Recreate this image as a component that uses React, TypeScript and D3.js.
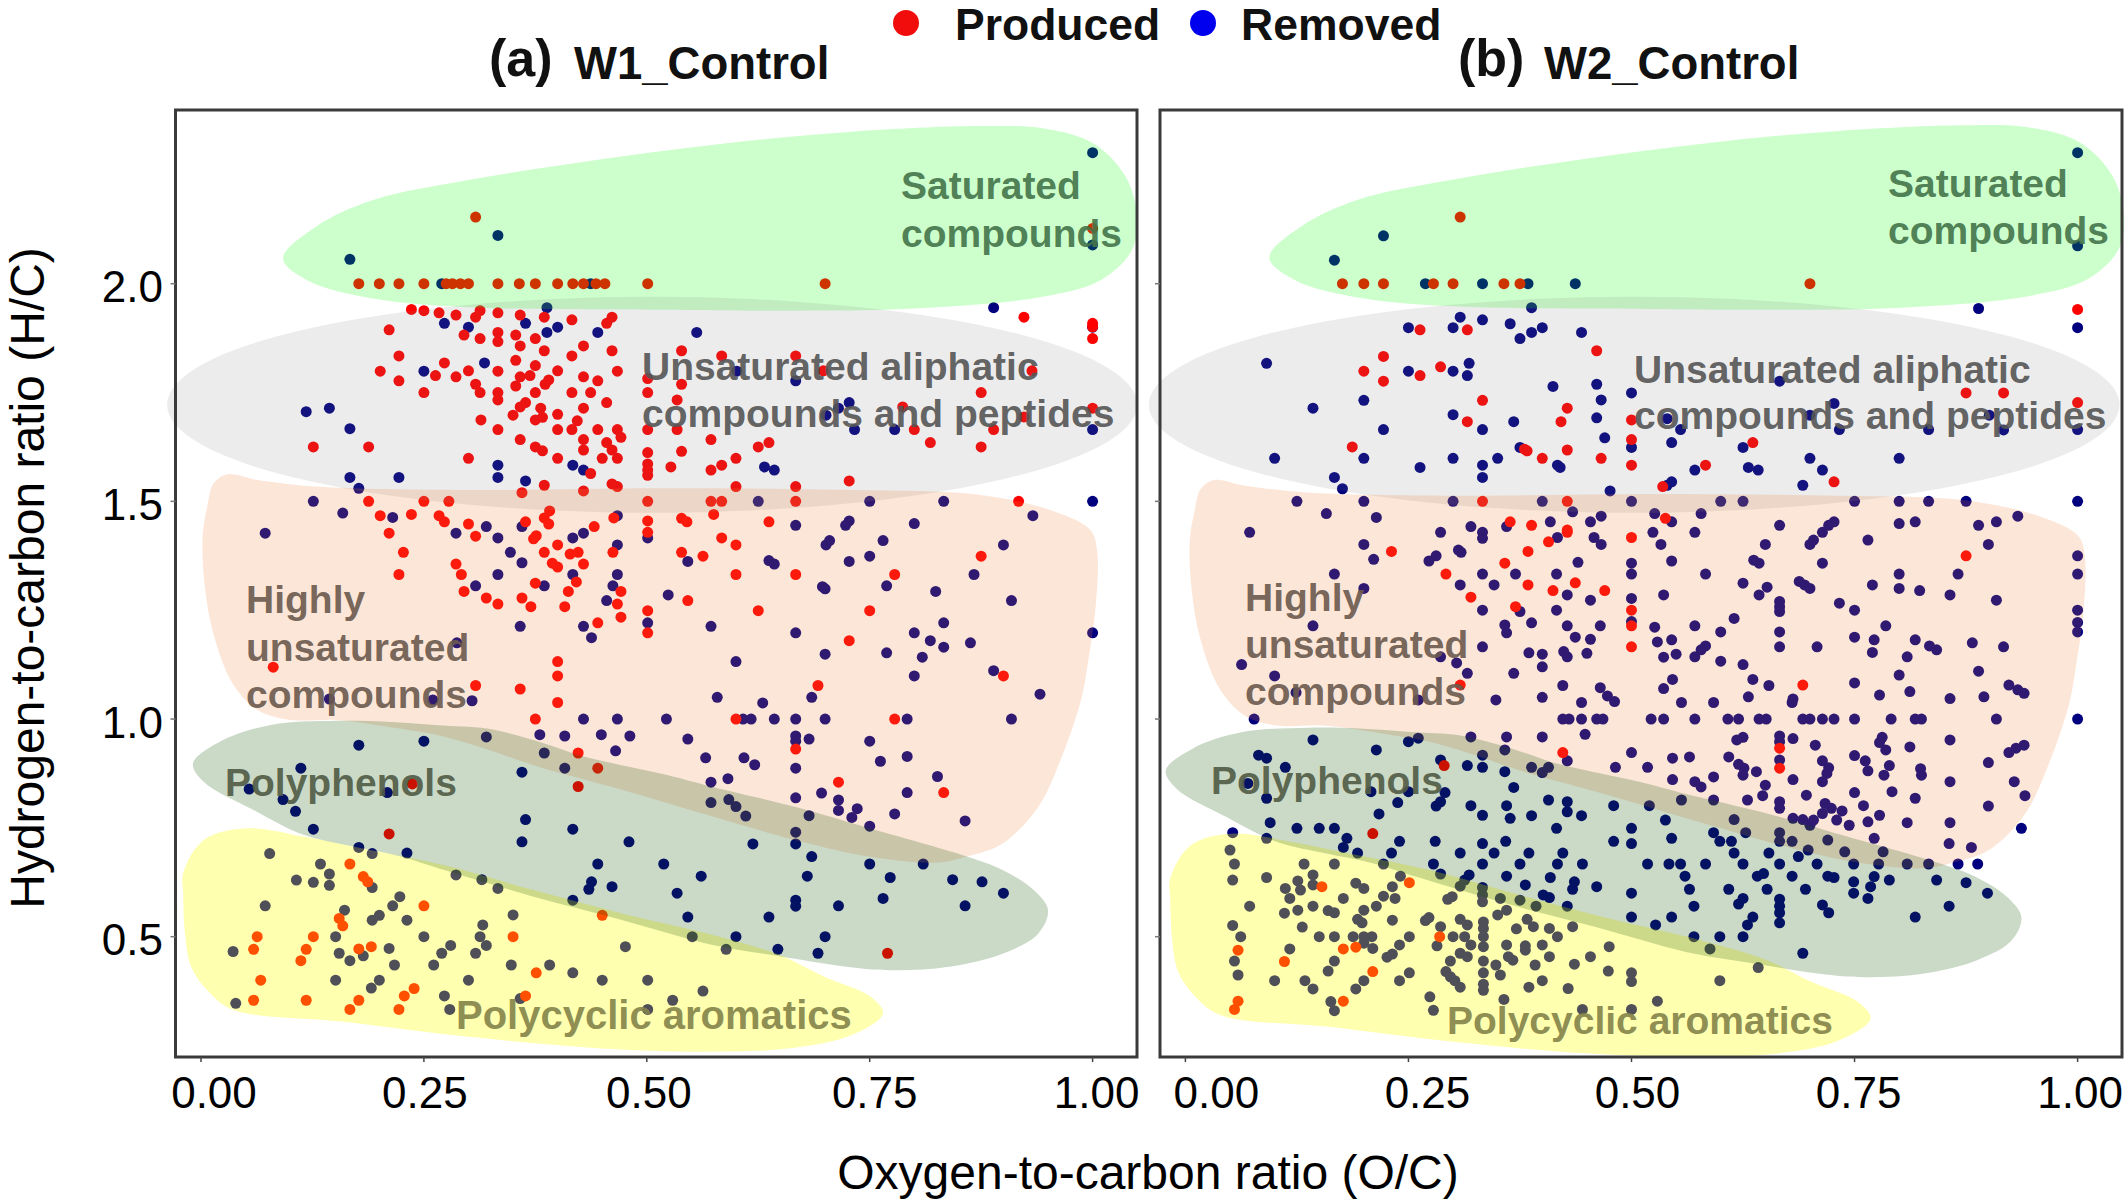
import * as d3 from "d3";

type Pt = [number, number];

const xTickValues = [0, 0.25, 0.5, 0.75, 1];
const yTickValues = [0.5, 1, 1.5, 2];
const xTickLabels = ["0.00", "0.25", "0.50", "0.75", "1.00"];
const yTickLabels = ["0.5", "1.0", "1.5", "2.0"];

// (O/C, H/C)
const w1Produced: Pt[] = [
  [.177,2],[.2,2],[.222,2],[.25,2],[.275,2],[.282,2],[.291,2],[.3,2],[.333,2],[.357,2],[.375,2],[.4,2],[.417,2],[.429,2],[.443,2],[.453,2],[.501,2],[.7,2],
  [.308,2.153],[1,2.127],[.236,1.941],[.25,1.938],[.267,1.933],[.286,1.928],[.313,1.938],[.308,1.923],[.333,1.933],[.358,1.928],[.385,1.923],[.416,1.917],[.461,1.923],[.455,1.909],
  [.211,1.894],[.333,1.888],[.353,1.882],[.295,1.882],[.313,1.874],[.333,1.867],[.375,1.874],[.358,1.857],[.385,1.846],[.429,1.857],[.461,1.846],[.416,1.834],[.222,1.834],[.353,1.824],
  [.273,1.818],[.375,1.812],[.333,1.799],[.3,1.8],[.4,1.8],[.467,1.799],[.201,1.799],[.263,1.789],[.286,1.786],[.222,1.777],[.369,1.789],[.358,1.786],[.308,1.769],[.39,1.779],[.386,1.769],
  [.429,1.786],[.445,1.777],[.353,1.765],[.313,1.75],[.25,1.75],[.375,1.75],[.416,1.75],[.437,1.75],[.333,1.75],[.333,1.733],[.364,1.727],[.358,1.717],[.35,1.698],[.381,1.714],[.455,1.727],
  [.429,1.714],[.4,1.7],[.383,1.693],[.375,1.687],[.314,1.687],[.422,1.685],[.416,1.665],[.4,1.665],[.445,1.665],[.467,1.665],[.333,1.665],[.471,1.647],[.429,1.642],[.455,1.635],[.358,1.642],
  [.375,1.625],[.383,1.616],[.429,1.618],[.461,1.618],[.467,1.599],[.45,1.599],[.3,1.599],[.4,1.599],[.437,1.564],[.126,1.625],[.188,1.625],
  [.501,1.782],[.501,1.75],[.501,1.665],[.501,1.612],[.501,1.586],[.501,1.572],[.501,1.56],[.501,1.5],[.501,1.455],
  [.539,1.846],[.539,1.769],[.534,1.733],[.534,1.665],[.584,1.834],[.667,1.834],[.698,1.8],[.932,1.8],[.875,1.75],[1,1.714],[.787,1.717],[.923,1.694],[.8,1.665],[.889,1.665],[.572,1.642],
  [.625,1.625],[.637,1.635],[.818,1.635],[.875,1.625],[.539,1.615],[.6,1.599],[.584,1.583],[.572,1.572],[.527,1.579],[.727,1.547],[.6,1.534],[.667,1.534],[.467,1.534],[.461,1.54],[.385,1.537],
  [.429,1.524],[.36,1.52],[.923,1.923],[1,1.909],[1,1.901],[1,1.874],
  [.188,1.5],[.25,1.5],[.278,1.5],[.572,1.5],[.584,1.5],[.667,1.5],[.917,1.5],
  [.201,1.467],[.236,1.47],[.267,1.467],[.273,1.453],[.3,1.448],[.391,1.478],[.385,1.462],[.39,1.448],[.364,1.453],[.463,1.462],[.539,1.461],[.545,1.453],[.575,1.47],[.637,1.453],[.441,1.442],
  [.211,1.427],[.227,1.383],[.308,1.42],[.286,1.356],[.292,1.332],[.222,1.332],[.295,1.293],[.32,1.278],[.333,1.264],[.36,1.278],[.37,1.258],[.408,1.258],[.412,1.293],[.421,1.315],[.375,1.312],
  [.373,1.414],[.376,1.421],[.4,1.4],[.385,1.383],[.414,1.379],[.423,1.383],[.429,1.356],[.394,1.358],[.4,1.349],[.462,1.383],[.501,1.429],[.539,1.383],[.563,1.374],[.584,1.416],[.6,1.4],
  [.6,1.332],[.667,1.332],[.471,1.293],[.467,1.264],[.546,1.272],[.501,1.249],[.471,1.234],[.445,1.221],[.501,1.198],[.625,1.249],[.75,1.249],[.727,1.18],[.875,1.374],[.778,1.332],
  [.081,1.119],[.4,1.132],[.4,1.099],[.308,1.077],[.358,1.069],[.4,1.038],[.375,1],[.6,1],[.778,1],[.692,1.077],[.9,1.099],[.423,.922],[.445,.887],[.423,.845],[.667,.931],[.715,.855],[.833,.831],[.237,.851],[.211,.736],
  [.167,.667],[.182,.638],[.187,.626],[.25,.571],[.155,.542],[.159,.525],[.126,.5],[.063,.5],[.059,.471],[.118,.471],[.177,.472],[.191,.477],[.112,.445],[.067,.4],[.059,.354],[.118,.354],[.177,.354],
  [.167,.333],[.222,.333],[.228,.364],[.239,.381],[.376,.417],[.35,.5],[.45,.549],[.364,.364],[.77,.462],
];

const w1Removed: Pt[] = [
  [1,2.301],[1,2.089],[.333,2.111],[.167,2.056],[.27,2],[.437,2],[.388,1.945],[.889,1.945],[.273,1.909],[.3,1.9],[.364,1.909],[.4,1.9],[.388,1.888],[.445,1.888],[.556,1.888],[1,1.9],
  [.318,1.818],[.25,1.799],[.601,1.799],[.667,1.777],[.118,1.706],[.144,1.714],[.167,1.667],[.727,1.727],[.715,1.714],[.701,1.698],[.733,1.665],[.778,1.665],[1,1.665],[.333,1.583],[.417,1.583],
  [.429,1.572],[.632,1.579],[.643,1.572],[.167,1.555],[.222,1.555],[.333,1.555],[.364,1.547],[.177,1.53],[.126,1.5],[.625,1.5],[.75,1.5],[.833,1.5],[1,1.5],
  [.467,1.467],[.159,1.473],[.215,1.463],[.933,1.467],[.727,1.455],[.723,1.445],[.667,1.445],[.32,1.442],[.8,1.449],[.36,1.442],
  [.072,1.427],[.286,1.427],[.417,1.416],[.333,1.416],[.429,1.427],[.467,1.4],[.501,1.416],[.701,1.4],[.705,1.41],[.727,1.362],[.765,1.41],[.75,1.374],[.9,1.4],[.347,1.383],[.36,1.359],
  [.333,1.332],[.417,1.332],[.467,1.332],[.308,1.306],[.385,1.306],[.462,1.306],[.546,1.362],[.637,1.364],[.643,1.356],[.697,1.304],[.7,1.299],[.769,1.306],[.824,1.293],[.867,1.332],[.909,1.272],
  [.455,1.272],[.524,1.285],[.358,1.213],[.429,1.213],[.438,1.187],[.501,1.221],[.572,1.213],[.667,1.198],[.8,1.198],[.833,1.221],[.818,1.18],[.833,1.165],[.863,1.175],[1,1.198],[.287,1.175],
  [.7,1.149],[.769,1.152],[.809,1.142],[.6,1.132],[.8,1.099],[.889,1.111],[.941,1.057],[.144,1.046],[.26,1.044],[.304,1.042],[.579,1.05],[.63,1.037],[.685,1.05],
  [.429,1],[.467,1],[.522,1],[.608,1],[.617,1],[.643,1],[.667,1],[.7,1],[.792,1],[.909,1],
  [.32,.959],[.38,.964],[.408,.961],[.449,.964],[.481,.961],[.546,.954],[.667,.961],[.667,.949],[.682,.954],[.75,.949],[.177,.94],[.25,.949],[.465,.927],[.385,.922],[.566,.911],[.609,.911],
  [.621,.895],[.667,.887],[.762,.903],[.792,.914],[.36,.878],[.408,.887],[.112,.887],[.054,.839],[.209,.831],[.572,.855],[.591,.863],[.826,.868],[.792,.831],[.092,.815],[.106,.788],[.572,.808],
  [.592,.815],[.6,.799],[.611,.777],[.667,.819],[.696,.83],[.715,.814],[.715,.79],[.736,.794],[.73,.774],[.75,.754],[.778,.782],[.682,.778],[.857,.766],[.364,.769],[.417,.747],[.126,.747],
  [.667,.74],[.36,.718],[.48,.718],[.619,.713],[.667,.713],[.177,.705],[.192,.691],[.231,.692],[.077,.691],
  [.685,.684],[.134,.667],[.445,.667],[.519,.667],[.75,.667],[.81,.667],[.144,.644],[.286,.642],[.561,.639],[.68,.639],[.773,.636],[.107,.63],[.315,.631],[.843,.631],[.126,.625],[.876,.626],
  [.438,.626],[.144,.618],[.192,.613],[.333,.611],[.435,.609],[.461,.615],[.534,.6],[.9,.6],[.223,.592],[.765,.588],[.417,.584],[.667,.584],[.667,.57],[.215,.571],[.072,.571],[.715,.571],[.857,.571],
  [.161,.561],[.2,.549],[.35,.55],[.546,.545],[.637,.545],[.192,.538],[.231,.538],[.316,.527],[.313,.5],[.25,.5],[.151,.5],[.551,.5],[.6,.5],[.7,.5],[.32,.48],[.211,.473],[.28,.48],[.476,.477],
  [.589,.471],[.647,.471],[.27,.462],[.308,.462],[.036,.466],[.155,.462],[.692,.462],[.182,.456],[.167,.445],[.217,.435],[.261,.435],[.348,.435],[.391,.435],[.417,.417],[.151,.4],[.2,.4],[.3,.4],
  [.45,.4],[.501,.4],[.191,.382],[.273,.364],[.563,.375],[.358,.358],[.529,.354],[.039,.347],[.279,.333],[.501,.333],
];

// (O/C, H/C)
const w2Produced: Pt[] = [
  [.308,2.153],[.176,2],[.2,2],[.222,2],[.278,2],[.3,2],[.357,2],[.375,2],[.7,2],[.263,1.894],[.316,1.894],[1,1.941],[.461,1.846],[.222,1.833],[.286,1.809],[.2,1.799],[.263,1.789],[.222,1.776],
  [.333,1.732],[.428,1.714],[.875,1.749],[.917,1.749],[1,1.727],[.316,1.683],[.421,1.683],[.5,1.687],[.5,1.642],[.636,1.635],[.187,1.625],[.383,1.616],[.38,1.62],[.428,1.618],[.4,1.599],[.466,1.599],
  [.5,1.583],[.583,1.583],[.535,1.534],[.727,1.545],[.333,1.5],[.428,1.5],[.364,1.453],[.388,1.445],[.538,1.461],[.428,1.434],
  [.428,1.429],[.5,1.417],[.407,1.407],[.384,1.385],[.231,1.385],[.358,1.358],[.292,1.333],[.384,1.308],[.437,1.313],[.412,1.295],[.47,1.295],[.32,1.28],[.37,1.258],[.5,1.25],[.5,1.214],[.5,1.166],
  [.875,1.375],[.308,1.078],[.692,1.078],[.423,.923],[.666,.933],[.666,.887],[.29,.893],[.21,.737],
  [.153,.615],[.251,.624],[.285,.5],[.177,.472],[.191,.476],[.059,.469],[.111,.443],[.21,.42],[.059,.352],[.055,.333],[.177,.352],
];

const w2Removed: Pt[] = [
  [1,2.301],[1,2.087],[.222,2.11],[.167,2.054],[.269,2],[.333,2],[.384,2],[.437,2],[.388,1.945],[.889,1.943],[.308,1.923],[.333,1.917],[.25,1.899],[.3,1.899],[.364,1.908],[.4,1.899],[.388,1.888],
  [.375,1.874],[.444,1.888],[1,1.899],[.091,1.817],[.318,1.817],[.25,1.799],[.3,1.799],[.316,1.789],[.666,1.776],[.412,1.764],[.461,1.769],[.466,1.733],[.5,1.749],[.2,1.732],[.143,1.714],[.3,1.699],
  [.461,1.692],[.727,1.725],[.7,1.698],[.54,1.69],[.368,1.683],[.333,1.665],[.222,1.665],[.555,1.665],[.733,1.665],[.833,1.665],[.901,1.698],[.917,1.664],[1,1.665],[.47,1.646],[.5,1.624],[.545,1.635],
  [.625,1.624],[.375,1.624],[.2,1.599],[.1,1.599],[.3,1.599],[.35,1.599],[.7,1.599],[.8,1.599],[.263,1.578],[.333,1.583],[.417,1.583],[.42,1.578],[.571,1.572],[.631,1.578],[.642,1.572],[.714,1.572],
  [.167,1.555],[.333,1.555],[.545,1.545],[.54,1.537],[.176,1.529],[.692,1.537],[.476,1.524],
  [.125,1.5],[.2,1.5],[.3,1.5],[.4,1.5],[.5,1.5],[.6,1.5],[.625,1.5],[.75,1.5],[.8,1.5],[.833,1.5],[.875,1.5],[1,1.5],
  [.158,1.472],[.214,1.463],[.434,1.476],[.466,1.466],[.454,1.453],[.526,1.472],[.578,1.472],[.933,1.466],[.909,1.453],[.889,1.445],[.818,1.453],[.8,1.449],[.727,1.453],[.721,1.445],[.666,1.445],
  [.545,1.453],[.409,1.453],[.36,1.442],[.32,1.442],
  [.072,1.429],[.286,1.429],[.333,1.429],[.333,1.415],[.417,1.417],[.458,1.417],[.466,1.401],[.524,1.429],[.571,1.429],[.533,1.401],[.65,1.401],[.714,1.429],[.704,1.411],[.7,1.401],[.765,1.411],[.9,1.401],
  [.2,1.401],[.211,1.367],[.281,1.375],[.273,1.363],[.306,1.388],[.309,1.383],[.44,1.36],[.5,1.358],[.545,1.363],[.637,1.365],[.643,1.358],[.714,1.358],[1,1.375],[.167,1.333],[.333,1.333],[.37,1.333],
  [.416,1.333],[.5,1.333],[.583,1.333],[.8,1.333],[.866,1.333],[1,1.333],[.2,1.3],[.308,1.308],[.346,1.308],[.625,1.312],[.652,1.303],[.688,1.316],[.694,1.308],[.7,1.3],[.77,1.308],[.8,1.3],[.823,1.295],
  [.428,1.285],[.536,1.285],[.643,1.285],[.857,1.285],[.5,1.277],[.454,1.273],[.909,1.273],[.666,1.27],[.666,1.258],[.666,1.247],[.733,1.266],[.75,1.25],[.333,1.25],[.416,1.25],[.375,1.247],[1,1.25],
  [.615,1.231],[.143,1.214],[.358,1.216],[.36,1.198],[.388,1.221],[.428,1.214],[.465,1.214],[.5,1.224],[.526,1.211],[.571,1.214],[.6,1.2],[.666,1.2],[.785,1.214],[1,1.222],[1,1.2],
  [.437,1.188],[.454,1.183],[.529,1.177],[.545,1.182],[.75,1.188],[.772,1.182],[.818,1.182],[.882,1.175],[.834,1.168],[.842,1.159],[.917,1.166],[.333,1.166],[.666,1.166],[.708,1.166],[.583,1.168],
  [.578,1.159],[.571,1.143],[.385,1.152],[.4,1.149],[.424,1.155],[.428,1.143],[.45,1.151],[.55,1.149],[.536,1.142],[.77,1.153],[.809,1.143],[.286,1.143],[.304,1.129],[.063,1.125],[.6,1.133],[.625,1.125],
  [.4,1.12],[.889,1.11],[.8,1.101],[.1,1.099],[.316,1.105],[.368,1.105],[.546,1.091],[.636,1.091],[.75,1.083],[.423,1.077],[.465,1.072],[.536,1.07],[.654,1.077],[.923,1.078],[.933,1.067],[.94,1.059],
  [.124,1.061],[.812,1.063],[.778,1.055],[.631,1.051],[.473,1.053],[.481,1.04],[.4,1.05],[.261,1.044],[.348,1.044],[.444,1.038],[.556,1.038],[.592,1.038],[.681,1.046],[.68,1.038],[.857,1.047],[.895,1.051],
  [.077,1],[.423,1],[.43,1],[.444,1],[.461,1],[.468,1],[.522,1],[.536,1],[.571,1],[.608,1],[.62,1],[.643,1],[.651,1],[.692,1],[.7,1],[.714,1],[.727,1],[.75,1],[.791,1],[.818,1],[.825,1],[.909,1],[1,1],
  [.448,.965],[.32,.959],[.36,.959],[.4,.959],[.261,.956],[.25,.948],[.143,.952],[.625,.958],[.618,.952],[.666,.961],[.666,.948],[.681,.955],[.706,.94],[.781,.958],[.778,.946],[.785,.929],[.812,.936],
  [.857,.952],[.94,.94],[.931,.933],[.923,.923],[.214,.929],[.358,.929],[.5,.923],[.333,.917],[.082,.917],[.091,.91],[.286,.906],[.546,.91],[.565,.913],[.609,.913],[.666,.906],[.428,.904],[.714,.904],
  [.75,.916],[.762,.904],[.9,.9],[.112,.889],[.316,.893],[.333,.889],[.388,.889],[.407,.889],[.4,.877],[.482,.889],[.518,.889],[.62,.896],[.626,.887],[.625,.871],[.64,.879],[.721,.888],[.719,.875],
  [.765,.881],[.789,.893],[.783,.871],[.824,.886],[.825,.871],[.358,.879],[.546,.861],[.592,.867],[.571,.856],[.578,.844],[.681,.861],[.714,.856],[.857,.856],[.929,.856],[.65,.848],[.07,.852],[.368,.843],
  [.208,.833],[.25,.833],[.291,.831],[.75,.831],[.792,.833],[.696,.825],[.647,.824],[.818,.818],[.941,.824],[.091,.818],[.238,.808],[.286,.81],[.281,.8],[.407,.814],[.428,.81],[.556,.814],[.592,.814],
  [.63,.814],[.666,.81],[.666,.795],[.717,.806],[.724,.795],[.714,.783],[.736,.789],[.76,.801],[.9,.8],[.778,.779],[.32,.801],[.36,.801],[.428,.787],[.48,.801],[.52,.801],[.217,.782],[.333,.779],[.364,.772],
  [.388,.778],[.444,.778],[.681,.772],[.692,.769],[.704,.768],[.7,.756],[.73,.768],[.744,.756],[.765,.764],[.809,.762],[.857,.762],[.937,.749],[.538,.768],[.615,.769],[.5,.749],[.416,.749],[.095,.762],
  [.125,.749],[.15,.749],[.167,.749],
  [.053,.739],[.091,.726],[.181,.726],[.24,.719],[.28,.719],[.333,.714],[.359,.719],[.48,.719],[.5,.714],[.545,.726],[.592,.739],[.599,.719],[.612,.719],[.628,.739],[.666,.739],[.666,.719],[.68,.719],
  [.72,.722],[.772,.726],[.856,.714],[.881,.705],[.05,.699],[.177,.705],[.193,.692],[.231,.692],[.308,.692],[.346,.692],[.385,.692],[.423,.692],[.615,.692],[.654,.692],[.698,.699],[.687,.684],[.739,.695],[.782,.695],
  [.055,.667],[.133,.667],[.167,.667],[.222,.667],[.278,.667],[.333,.667],[.375,.667],[.417,.667],[.445,.667],[.518,.667],[.542,.667],[.555,.667],[.583,.667],[.625,.667],[.666,.667],[.708,.667],[.749,.667],
  [.777,.667],[.809,.667],[.833,.667],[.866,.667],[.888,.667],
  [.143,.642],[.241,.639],[.286,.644],[.318,.642],[.36,.639],[.409,.636],[.56,.639],[.641,.639],[.648,.645],[.68,.639],[.72,.639],[.727,.636],[.772,.638],[.789,.63],[.749,.626],[.842,.63],[.875,.624],
  [.053,.63],[.091,.636],[.126,.628],[.143,.619],[.112,.611],[.129,.607],[.191,.623],[.2,.611],[.232,.615],[.313,.63],[.308,.616],[.333,.613],[.381,.619],[.436,.626],[.434,.609],[.461,.615],[.5,.6],
  [.565,.609],[.609,.609],[.652,.609],[.695,.609],[.749,.6],[.768,.615],[.765,.588],[.899,.6],[.177,.588],[.117,.588],[.222,.593],[.235,.588],[.299,.592],[.294,.586],[.333,.596],[.333,.58],[.353,.588],
  [.375,.584],[.401,.596],[.408,.59],[.625,.588],[.62,.575],[.57,.57],[.666,.586],[.666,.57],[.666,.555],[.714,.573],[.721,.555],[.856,.57],[.072,.57],[.143,.57],[.214,.57],[.126,.561],[.111,.554],
  [.16,.56],[.167,.555],[.2,.561],[.36,.561],[.35,.55],[.393,.57],[.428,.57],[.5,.545],[.545,.545],[.636,.545],[.63,.527],[.666,.532],[.818,.545],[.527,.527],[.053,.526],[.131,.522],[.193,.54],[.198,.532],
  [.232,.538],[.273,.544],[.269,.537],[.308,.54],[.316,.527],[.334,.534],[.334,.519],[.286,.523],[.371,.518],[.383,.54],[.39,.523],[.408,.519],[.434,.523],
  [.062,.5],[.15,.5],[.167,.5],[.188,.5],[.2,.5],[.209,.5],[.251,.5],[.3,.5],[.313,.5],[.334,.5],[.417,.5],[.57,.5],[.599,.5],[.625,.5],
  [.117,.472],[.2,.485],[.21,.473],[.24,.481],[.282,.479],[.32,.481],[.334,.477],[.36,.481],[.381,.479],[.4,.481],[.588,.472],[.475,.477],[.692,.462],[.308,.462],[.316,.454],[.362,.454],[.367,.446],
  [.381,.469],[.408,.454],[.055,.444],[.167,.444],[.232,.46],[.226,.453],[.297,.444],[.334,.444],[.454,.454],[.348,.435],[.392,.435],[.436,.437],[.642,.429],[.16,.421],[.251,.417],[.059,.412],[.292,.42],
  [.297,.408],[.334,.417],[.353,.412],[.474,.421],[.5,.417],[.5,.397],[.1,.399],[.134,.399],[.143,.38],[.2,.399],[.191,.38],[.24,.399],[.302,.399],[.308,.384],[.334,.391],[.334,.377],[.385,.384],[.4,.399],
  [.429,.381],[.599,.399],[.274,.362],[.357,.356],[.529,.352],[.163,.351],[.167,.33],[.278,.331],[.445,.333],[.5,.333],
];

// compound class outlines, O/C vs H/C
const saturatedOutline: Pt[] = [
  [.092,2.058],[.129,2.131],[.193,2.192],[.3,2.238],[.443,2.284],[.587,2.322],[.73,2.349],[.873,2.362],[.944,2.357],[1.001,2.322],[1.037,2.246],[1.05,2.154],[1.044,2.077],[1.009,2.008],[.944,1.97],
  [.801,1.943],[.658,1.938],[.515,1.94],[.3,1.946],[.193,1.966],[.122,2.005],
];
const highlyUnsaturatedOutline: Pt[] = [
  [.029,1.562],[.064,1.549],[.129,1.534],[.3,1.526],[.515,1.53],[.73,1.526],[.873,1.515],[.958,1.476],[.998,1.433],[1.005,1.387],[1.004,1.272],[.994,1.119],[.987,1.044],[.964,.906],[.939,.798],
  [.899,.714],[.859,.684],[.824,.67],[.749,.684],[.674,.718],[.574,.776],[.473,.837],[.373,.894],[.323,.929],[.274,.959],[.223,.978],[.152,.998],[.1,.998],[.064,1.02],[.036,1.08],[.014,1.195],[.004,1.31],[.002,1.425],[.007,1.488],[.014,1.541],
];
const polyphenolOutline: Pt[] = [
  [-.009,.898],[.021,.948],[.077,.986],[.152,.996],[.208,.994],[.265,.986],[.321,.978],[.385,.944],[.424,.917],[.463,.898],[.524,.871],[.574,.844],[.667,.798],[.75,.749],[.859,.684],[.899,.653],[.934,.607],[.95,.561],
  [.939,.507],[.899,.461],[.839,.431],[.774,.423],[.724,.431],[.649,.455],[.574,.481],[.473,.538],[.373,.592],[.273,.653],[.223,.685],[.171,.707],[.115,.734],[.059,.791],[.003,.856],
];
const polycyclicOutline: Pt[] = [
  [.051,.749],[.003,.722],[-.02,.646],[-.02,.6],[-.018,.508],[-.011,.431],[.007,.377],[.036,.332],[.157,.305],[.3,.27],[.444,.244],[.565,.236],[.658,.243],[.73,.274],[.765,.324],[.751,.362],[.699,.408],
  [.649,.458],[.574,.504],[.473,.553],[.373,.607],[.273,.664],[.19,.699],[.115,.73],
];
const aliphaticEllipse = { oc: 0.506, hc: 1.722, rOc: 0.544, rHc: 0.248 };

// layout, in pixels of the 2128x1204 page
const width = 2128;
const height = 1204;
const panelTop = 110;
const panelBottom = 1057;
const yScale = d3.scaleLinear().domain([0.5, 2]).range([936.7, 283.7]);

const panels = [
  {
    key: "a", tag: "(a)", name: "W1_Control", tagX: 489, nameX: 574,
    left: 175.5, right: 1137, x0: 201, x1: 1092.6,
    produced: w1Produced, removed: w1Removed,
    shift: { sat: [0, 0], ali: [0, 0], high: [0, 0], poly: [0, 0], cyc: [0, 0] },
    labelNudge: [13, 1, 2, 5, 4],
    labels: { sat: [901, 199, 247], ali: [642, 380, 427], high: [246, 613, 661, 708], poly: [225, 796], cyc: [456, 1029, 40] },
  },
  {
    key: "b", tag: "(b)", name: "W2_Control", tagX: 1458, nameX: 1544,
    left: 1160, right: 2122, x0: 1185.4, x1: 2077.6,
    produced: w2Produced, removed: w2Removed,
    shift: { sat: [0.002, 0.002], ali: [-0.003, 0], high: [0.003, -0.013], poly: [-0.013, -0.016], cyc: [0.003, -0.012] },
    labelNudge: [31, 19, 6, 4, 2.5],
    labels: { sat: [1888, 197, 244], ali: [1634, 383, 429], high: [1245, 611, 658, 705], poly: [1211, 794], cyc: [1447, 1034, 39] },
  },
];

const fontFamily = "'Liberation Sans', Arial, sans-serif";

const App = () => (
  <svg
    width={width}
    height={height}
    viewBox={`0 0 ${width} ${height}`}
    style={{ position: "absolute", left: 0, top: 0, background: "#fff" }}
    fontFamily={fontFamily}
  >
    {panels.map((p) => {
      const xScale = d3.scaleLinear().domain([0, 1]).range([p.x0, p.x1]);
      const outline = (pts: Pt[], [dx, dy]: number[]) =>
        d3
          .line<Pt>()
          .x((d) => xScale(d[0] + dx))
          .y((d) => yScale(d[1] + dy))
          .curve(d3.curveCatmullRomClosed.alpha(0.5))(pts) ?? "";
      const textProps = { fontWeight: 700, fontSize: 39, fillOpacity: 0.93 };
      return (
        <g key={p.key}>
          {/* Points sit under the translucent class regions */}
          {p.removed.map((d, i) => (
            <circle key={`r${i}`} cx={xScale(d[0])} cy={yScale(d[1])} r={5.5} fill="#00007f" />
          ))}
          {p.produced.map((d, i) => (
            <circle key={`p${i}`} cx={xScale(d[0])} cy={yScale(d[1])} r={5.5} fill="#ff0000" />
          ))}

          <path d={outline(saturatedOutline, p.shift.sat)} fill="rgb(0,255,0)" fillOpacity={0.2} />
          <ellipse
            cx={xScale(aliphaticEllipse.oc + p.shift.ali[0])}
            cy={yScale(aliphaticEllipse.hc)}
            rx={xScale(aliphaticEllipse.rOc) - xScale(0)}
            ry={yScale(0) - yScale(aliphaticEllipse.rHc)}
            fill="rgb(128,128,128)"
            fillOpacity={0.15}
          />
          <path d={outline(highlyUnsaturatedOutline, p.shift.high)} fill="rgb(240,128,60)" fillOpacity={0.2} />
          <path d={outline(polycyclicOutline, p.shift.cyc)} fill="rgb(255,255,0)" fillOpacity={0.31} />
          <path d={outline(polyphenolOutline, p.shift.poly)} fill="rgb(20,82,0)" fillOpacity={0.22} />

          <rect
            x={p.left}
            y={panelTop}
            width={p.right - p.left}
            height={panelBottom - panelTop}
            fill="none"
            stroke="#3a3a3a"
            strokeWidth={3}
          />

          {/* Class labels */}
          <g {...textProps}>
            <text x={p.labels.sat[0]} y={p.labels.sat[1]} fill="#45754a">Saturated</text>
            <text x={p.labels.sat[0]} y={p.labels.sat[2]} fill="#45754a">compounds</text>
            <text x={p.labels.ali[0]} y={p.labels.ali[1]} fill="#565656">Unsaturated aliphatic</text>
            <text x={p.labels.ali[0]} y={p.labels.ali[2]} fill="#565656">compounds and peptides</text>
            <text x={p.labels.high[0]} y={p.labels.high[1]} fill="#6b5a4e">Highly</text>
            <text x={p.labels.high[0]} y={p.labels.high[2]} fill="#6b5a4e">unsaturated</text>
            <text x={p.labels.high[0]} y={p.labels.high[3]} fill="#6b5a4e">compounds</text>
            <text x={p.labels.poly[0]} y={p.labels.poly[1]} fill="#515c45">Polyphenols</text>
            <text x={p.labels.cyc[0]} y={p.labels.cyc[1]} fontSize={p.labels.cyc[2]} fill="#84844a">Polycyclic aromatics</text>
          </g>

          {/* X axis */}
          {xTickValues.map((t, i) => (
            <g key={t}>
              <line x1={xScale(t)} x2={xScale(t)} y1={panelBottom} y2={panelBottom + 5} stroke="#444" strokeWidth={1.5} />
              <text x={xScale(t) + p.labelNudge[i]} y={1108} fontSize={44} textAnchor="middle" fill="#000">
                {xTickLabels[i]}
              </text>
            </g>
          ))}

          {/* Y axis ticks; only the left panel carries labels */}
          {yTickValues.map((t, i) => (
            <g key={t}>
              <line x1={p.left - 5} x2={p.left} y1={yScale(t)} y2={yScale(t)} stroke="#777" strokeWidth={1.5} />
              {p.key === "a" && (
                <text x={163} y={yScale(t) + 18.5} fontSize={44} textAnchor="end" fill="#000">
                  {yTickLabels[i]}
                </text>
              )}
            </g>
          ))}

          {/* Panel title */}
          <text x={p.tagX} y={76} fontSize={52} fontWeight={700} fill="#111">{p.tag}</text>
          <text x={p.nameX} y={79} fontSize={45.5} fontWeight={700} fill="#111">{p.name}</text>
        </g>
      );
    })}

    {/* Legend */}
    <circle cx={906} cy={23} r={13} fill="#f20d0d" />
    <text x={955} y={40} fontSize={44.5} fontWeight={700} fill="#111">Produced</text>
    <circle cx={1203} cy={23} r={13} fill="#0000ee" />
    <text x={1241} y={40} fontSize={44.5} fontWeight={700} fill="#111">Removed</text>

    {/* Axis titles */}
    <text x={1148} y={1189} fontSize={48} textAnchor="middle" fill="#000">Oxygen-to-carbon ratio (O/C)</text>
    <text transform="translate(44,578) rotate(-90)" fontSize={48} textAnchor="middle" fill="#000">
      Hydrogen-to-carbon ratio (H/C)
    </text>
  </svg>
);

export default App;
